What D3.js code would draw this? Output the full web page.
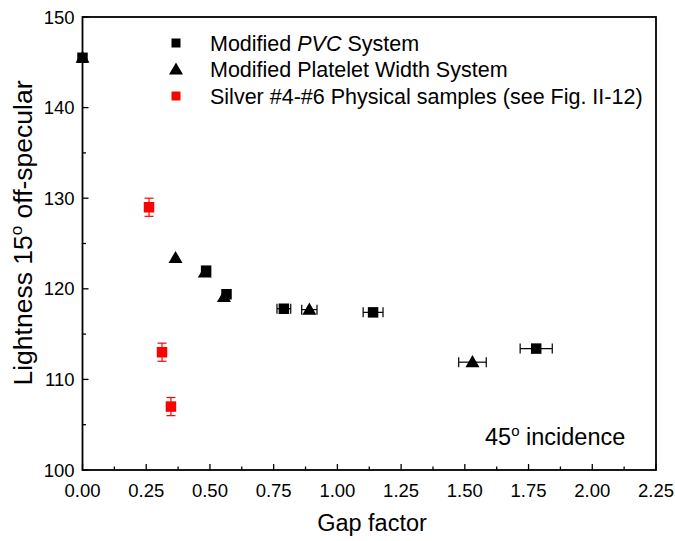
<!DOCTYPE html>
<html>
<head>
<meta charset="utf-8">
<script src="https://cdn.jsdelivr.net/npm/d3@7"></script>
<style>
  html, body { margin: 0; padding: 0; background: #fff; }
  svg text { font-family: "Liberation Sans", Arial, Helvetica, sans-serif; fill: #000; }
</style>
</head>
<body>
<svg id="chart" width="675" height="541"></svg>
<script>
// Gap factor vs. lightness at 15° off-specular
const pvcX    = [0.00, 0.485, 0.565, 0.79, 1.14, 1.78];
const pvcY    = [145.5, 122.0, 119.4, 117.8, 117.4, 113.4];
const pvcXErr = [0.00, 0.00, 0.00, 0.027, 0.039, 0.063];
const pvcYErr = [0.3, 0.3, 0.3, 0.2, 0.2, 0.2];

const plwX    = [0.00, 0.365, 0.48, 0.555, 0.89, 1.53];
const plwY    = [145.5, 123.4, 121.8, 119.1, 117.7, 111.9];
const plwXErr = [0.00, 0.00, 0.00, 0.00, 0.03, 0.054];
const plwYErr = [0.3, 0.4, 0.4, 0.4, 0.4, 0.4];

const silverX    = [0.261, 0.312, 0.347];
const silverY    = [129.0, 113.0, 107.0];
const silverYErr = [1.0, 1.0, 1.0];

const xTicks = [0, 0.25, 0.5, 0.75, 1.0, 1.25, 1.5, 1.75, 2.0, 2.25];
const yTicks = [100, 110, 120, 130, 140, 150];

const svg = d3.select("#chart");
const m = { left: 82.5, right: 656, top: 17, bottom: 470 };

const x = d3.scaleLinear().domain([0, 2.25]).range([m.left, m.right]);
const y = d3.scaleLinear().domain([100, 150]).range([m.bottom, m.top]);

// frame
svg.append("rect")
  .attr("x", m.left).attr("y", m.top)
  .attr("width", m.right - m.left).attr("height", m.bottom - m.top)
  .attr("fill", "none").attr("stroke", "#000").attr("stroke-width", 1.8);

// x axis: inward ticks, major + minor
const xMinor = d3.range(0.125, 2.25, 0.25);
svg.append("g").selectAll("line.maj").data(xTicks).join("line")
  .attr("x1", d => x(d)).attr("x2", d => x(d))
  .attr("y1", m.bottom).attr("y2", m.bottom - 6)
  .attr("stroke", "#000").attr("stroke-width", 1.3);
svg.append("g").selectAll("line.min").data(xMinor).join("line")
  .attr("x1", d => x(d)).attr("x2", d => x(d))
  .attr("y1", m.bottom).attr("y2", m.bottom - 3.5)
  .attr("stroke", "#000").attr("stroke-width", 1.3);
svg.append("g").selectAll("text").data(xTicks).join("text")
  .attr("x", d => x(d)).attr("y", m.bottom + 27)
  .attr("text-anchor", "middle").attr("font-size", 18.5)
  .text(d => d3.format(".2f")(d));

// y axis
const yMinor = d3.range(105, 150, 10);
svg.append("g").selectAll("line").data(yTicks).join("line")
  .attr("x1", m.left).attr("x2", m.left + 6)
  .attr("y1", d => y(d)).attr("y2", d => y(d))
  .attr("stroke", "#000").attr("stroke-width", 1.3);
svg.append("g").selectAll("line").data(yMinor).join("line")
  .attr("x1", m.left).attr("x2", m.left + 3.5)
  .attr("y1", d => y(d)).attr("y2", d => y(d))
  .attr("stroke", "#000").attr("stroke-width", 1.3);
svg.append("g").selectAll("text").data(yTicks).join("text")
  .attr("x", m.left - 8).attr("y", d => y(d) + 6.5)
  .attr("text-anchor", "end").attr("font-size", 18.5)
  .text(d => d);

// axis titles
svg.append("text")
  .attr("x", 372).attr("y", 531)
  .attr("text-anchor", "middle").attr("font-size", 23.5)
  .text("Gap factor");

const yt = svg.append("text")
  .attr("transform", `translate(32,233) rotate(-90)`)
  .attr("text-anchor", "middle").attr("font-size", 26.5);
yt.append("tspan").text("Lightness 15");
yt.append("tspan").attr("font-size", 17).attr("dy", -10).text("o");
yt.append("tspan").attr("dy", 10).text(" off-specular");

// annotation
const ann = svg.append("text").attr("x", 485).attr("y", 445).attr("font-size", 23.5);
ann.append("tspan").text("45");
ann.append("tspan").attr("font-size", 15).attr("dy", -9).text("o");
ann.append("tspan").attr("dy", 9).text(" incidence");

// error bars
function xErrBars(xs, ys, es, color) {
  const g = svg.append("g").attr("stroke", color).attr("stroke-width", 1.2);
  xs.forEach((v, i) => {
    if (!es[i]) return;
    const yy = y(ys[i]), x1 = x(v - es[i]), x2 = x(v + es[i]);
    g.append("line").attr("x1", x1).attr("x2", x2).attr("y1", yy).attr("y2", yy);
    g.append("line").attr("x1", x1).attr("x2", x1).attr("y1", yy - 5).attr("y2", yy + 5);
    g.append("line").attr("x1", x2).attr("x2", x2).attr("y1", yy - 5).attr("y2", yy + 5);
  });
}
function yErrBars(xs, ys, es, color, cap) {
  const g = svg.append("g").attr("stroke", color).attr("stroke-width", 1.2);
  xs.forEach((v, i) => {
    if (!es[i]) return;
    const xx = x(v), y1 = y(ys[i] - es[i]), y2 = y(ys[i] + es[i]);
    g.append("line").attr("x1", xx).attr("x2", xx).attr("y1", y1).attr("y2", y2);
    g.append("line").attr("x1", xx - cap).attr("x2", xx + cap).attr("y1", y1).attr("y2", y1);
    g.append("line").attr("x1", xx - cap).attr("x2", xx + cap).attr("y1", y2).attr("y2", y2);
  });
}

xErrBars(pvcX, pvcY, pvcXErr, "#000");
xErrBars(plwX, plwY, plwXErr, "#000");
yErrBars(pvcX, pvcY, pvcYErr, "#000", 0);
yErrBars(plwX, plwY, plwYErr, "#000", 0);
yErrBars(silverX, silverY, silverYErr, "#f00", 4.5);

// markers
const sq = d3.symbol().type(d3.symbolSquare).size(110);
const tri = d3.symbol().type(d3.symbolTriangle).size(85);

svg.append("g").selectAll("path").data(d3.range(plwX.length)).join("path")
  .attr("d", tri)
  .attr("transform", i => `translate(${x(plwX[i])},${y(plwY[i]) + 1})`)
  .attr("fill", "#000");
svg.append("g").selectAll("path").data(d3.range(pvcX.length)).join("path")
  .attr("d", sq)
  .attr("transform", i => `translate(${x(pvcX[i])},${y(pvcY[i])})`)
  .attr("fill", "#000");
svg.append("g").selectAll("path").data(d3.range(silverX.length)).join("path")
  .attr("d", sq)
  .attr("transform", i => `translate(${x(silverX[i])},${y(silverY[i])})`)
  .attr("fill", "#f00");

// legend
const legend = [
  { sym: "square", color: "#000", parts: [["Modified ", false], ["PVC", true], [" System", false]] },
  { sym: "triangle", color: "#000", parts: [["Modified Platelet Width System", false]] },
  { sym: "square", color: "#f00", parts: [["Silver #4-#6 Physical samples (see Fig. II-12)", false]] }
];
const lg = svg.append("g");
legend.forEach((d, i) => {
  const yy = 43 + i * 26.5;
  const isTri = d.sym === "triangle";
  lg.append("path")
    .attr("d", d3.symbol().type(isTri ? d3.symbolTriangle : d3.symbolSquare).size(isTri ? 85 : 81))
    .attr("transform", `translate(176,${yy + (isTri ? 1 : 0)})`).attr("fill", d.color);
  const t = lg.append("text").attr("x", 210).attr("y", yy + 7.5).attr("font-size", 21.5);
  d.parts.forEach(p => t.append("tspan").attr("font-style", p[1] ? "italic" : "normal").text(p[0]));
});
</script>
</body>
</html>
